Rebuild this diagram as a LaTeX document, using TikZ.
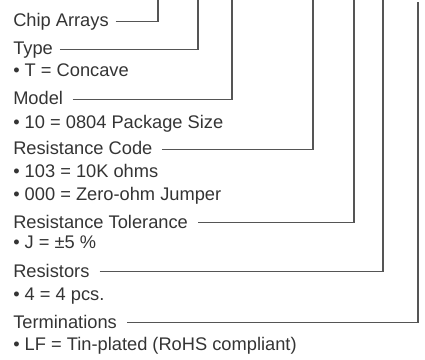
\documentclass[tikz,border=0pt]{standalone}
\usepackage{fontspec}
\setmainfont{Liberation Sans}
\usepackage{tikz}
\usetikzlibrary{positioning}
\usepackage{xcolor}
\definecolor{pntext}{RGB}{52,52,52}
\definecolor{pnline}{RGB}{85,85,85}
\tikzstyle{field} = [anchor=base west, inner sep=0pt, text=pntext, font=\fontsize{13.7}{16}\selectfont]
\tikzstyle{leader} = [draw=pnline, line width=0.9pt]

\begin{document}
\begin{tikzpicture}[x=0.75pt, y=-0.75pt]
\useasboundingbox (0,0) rectangle (425,360);
% Part number fields
\node (chip) [field] at (13,27) {Chip Arrays};
\node (type) [field] at (13,55) {Type};
\node (type_val) [field] at (13,77) {\textbullet\ T = Concave};
\node (model) [field] at (13,105) {Model};
\node (model_val) [field] at (13,128) {\textbullet\ 10 = 0804 Package Size};
\node (rcode) [field] at (13,155) {Resistance Code};
\node (rcode_val) [field] at (13,177) {\textbullet\ 103 = 10K ohms};
\node (rcode_val2) [field] at (13,200) {\textbullet\ 000 = Zero-ohm Jumper};
\node (tol) [field] at (13,228) {Resistance Tolerance};
\node (tol_val) [field] at (13,248) {\textbullet\ J = ±5 \%};
\node (res) [field] at (13,277) {Resistors};
\node (res_val) [field] at (13,300) {\textbullet\ 4 = 4 pcs.};
\node (term) [field] at (13,328) {Terminations};
\node (term_val) [field] at (13,350) {\textbullet\ LF = Tin-plated (RoHS compliant)};

% Leaders up to the part number
\coordinate (chip_top) at (158,0);
\coordinate (type_top) at (198,0);
\coordinate (model_top) at (232,0);
\coordinate (rcode_top) at (313,0);
\coordinate (tol_top) at (354,0);
\coordinate (res_top) at (383,0);
\coordinate (term_top) at (418,2);

\draw[leader] ([xshift=5pt,yshift=1.2pt]chip.mid east) -| (chip_top);
\draw[leader] ([xshift=5pt,yshift=1.2pt]type.mid east) -| (type_top);
\draw[leader] ([xshift=7pt,yshift=1.2pt]model.mid east) -| (model_top);
\draw[leader] ([xshift=7pt,yshift=1.2pt]rcode.mid east) -| (rcode_top);
\draw[leader] ([xshift=7.5pt,yshift=1.2pt]tol.mid east) -| (tol_top);
\draw[leader] ([xshift=7.5pt,yshift=1.2pt]res.mid east) -| (res_top);
\draw[leader] ([xshift=7.5pt,yshift=1.2pt]term.mid east) -| (term_top);
\end{tikzpicture}
\end{document}
